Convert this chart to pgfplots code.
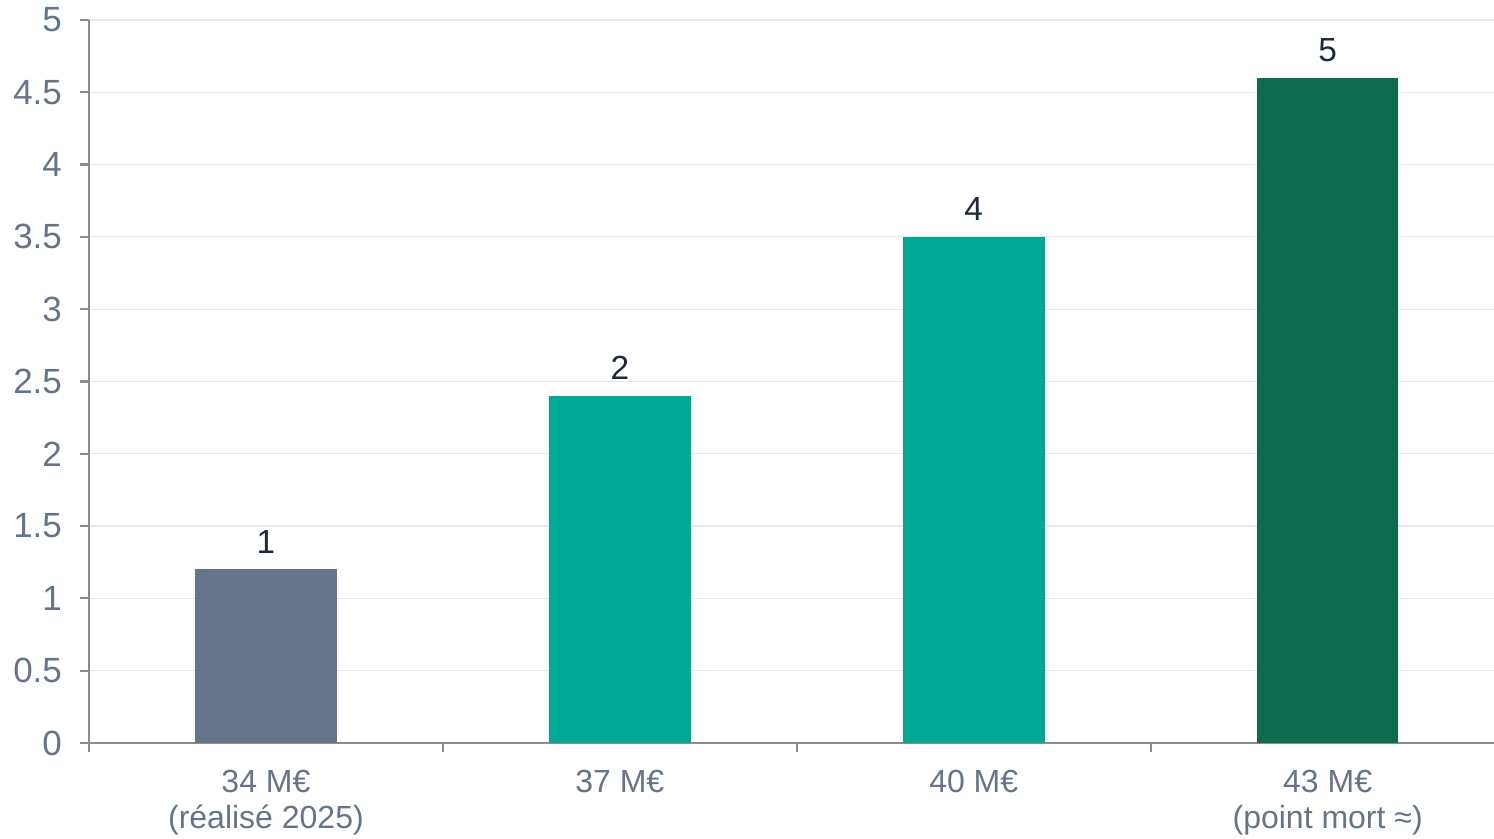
\documentclass[border=0pt]{standalone}
\usepackage{fontspec}
\setmainfont{Liberation Sans}
\usepackage{pgfplots}
\pgfplotsset{compat=1.18}

\definecolor{slate}{HTML}{64748B}
\definecolor{teal}{HTML}{00A896}
\definecolor{deepgreen}{HTML}{0E6B50}
\definecolor{gridc}{HTML}{E2E8F0}
\definecolor{axisc}{HTML}{8C8C8C}
\definecolor{labelc}{HTML}{1E293B}

\begin{document}
\begin{tikzpicture}
\begin{axis}[
    name=ax,
    scale only axis,
    width=702.5pt, height=361.5pt,
    xmin=-0.5, xmax=3.47,
    ymin=0, ymax=5,
    ytick={0,0.5,...,5},
    yticklabels={0,0.5,1,1.5,2,2.5,3,3.5,4,4.5,5},
    axis x line*=bottom, axis y line*=left,
    axis line style={axisc, line width=1.1pt},
    ymajorgrids=true,
    grid style={gridc, line width=0.6pt},
    tick align=outside,
    major tick length=4.5pt,
    tick style={axisc, line width=1.1pt},
    xtick={-0.5,0.5,1.5,2.5},
    xticklabels={},
    extra x ticks={0,1,2,3},
    extra x tick labels={{34 M€\\(réalisé 2025)},{37 M€},{40 M€},{43 M€\\(point mort ≈)}},
    extra x tick style={major tick length=0pt, grid=none},
    xticklabel style={align=center, font=\fontsize{16}{18}\selectfont, text=slate, yshift=-10pt},
    yticklabel style={font=\fontsize{17.5}{20}\selectfont, text=slate, xshift=-5.5pt},
    ybar, bar width=0.4, bar shift=0pt,
    point meta=explicit symbolic,
    nodes near coords,
    nodes near coords style={font=\fontsize{16.7}{20}\selectfont, text=labelc, yshift=4.5pt},
    clip=false,
]
\addplot[fill=slate, draw=none] coordinates {(0,1.2) [1]};
\addplot[fill=teal, draw=none] coordinates {(1,2.4) [2]};
\addplot[fill=teal, draw=none] coordinates {(2,3.5) [4]};
\addplot[fill=deepgreen, draw=none] coordinates {(3,4.6) [5]};
\end{axis}
\pgfresetboundingbox
\path ([xshift=-44.5pt,yshift=-48pt]ax.south west) rectangle ([yshift=10pt]ax.north east);
\end{tikzpicture}
\end{document}
